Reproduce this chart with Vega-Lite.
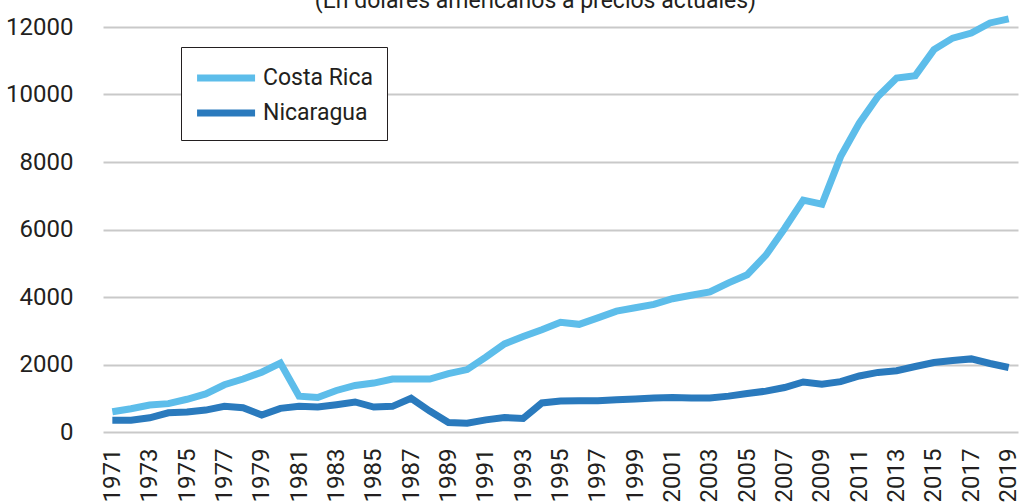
{
  "$schema": "https://vega.github.io/schema/vega-lite/v6.json",
  "autosize": "none",
  "width": 915,
  "height": 405,
  "padding": {"left": 103, "top": 27, "right": 4, "bottom": 72},
  "background": "white",
  "title": {
    "text": "(En dólares americanos a precios actuales)",
    "font": "Roboto, sans-serif",
    "fontSize": 23,
    "fontWeight": "normal",
    "color": "#231f20",
    "anchor": "middle",
    "baseline": "alphabetic",
    "offset": 0,
    "dy": 26,
    "dx": -25
  },
  "config": {
    "view": {"stroke": null},
    "font": "Roboto, sans-serif"
  },
  "data": {
    "values": [
      {"year": 1971, "country": "Costa Rica", "value": 600},
      {"year": 1972, "country": "Costa Rica", "value": 690},
      {"year": 1973, "country": "Costa Rica", "value": 800},
      {"year": 1974, "country": "Costa Rica", "value": 840},
      {"year": 1975, "country": "Costa Rica", "value": 970},
      {"year": 1976, "country": "Costa Rica", "value": 1130},
      {"year": 1977, "country": "Costa Rica", "value": 1400},
      {"year": 1978, "country": "Costa Rica", "value": 1570},
      {"year": 1979, "country": "Costa Rica", "value": 1770},
      {"year": 1980, "country": "Costa Rica", "value": 2040},
      {"year": 1981, "country": "Costa Rica", "value": 1060},
      {"year": 1982, "country": "Costa Rica", "value": 1020},
      {"year": 1983, "country": "Costa Rica", "value": 1230},
      {"year": 1984, "country": "Costa Rica", "value": 1380},
      {"year": 1985, "country": "Costa Rica", "value": 1450},
      {"year": 1986, "country": "Costa Rica", "value": 1570},
      {"year": 1987, "country": "Costa Rica", "value": 1570},
      {"year": 1988, "country": "Costa Rica", "value": 1570},
      {"year": 1989, "country": "Costa Rica", "value": 1730},
      {"year": 1990, "country": "Costa Rica", "value": 1850},
      {"year": 1991, "country": "Costa Rica", "value": 2220},
      {"year": 1992, "country": "Costa Rica", "value": 2610},
      {"year": 1993, "country": "Costa Rica", "value": 2830},
      {"year": 1994, "country": "Costa Rica", "value": 3030},
      {"year": 1995, "country": "Costa Rica", "value": 3250},
      {"year": 1996, "country": "Costa Rica", "value": 3190},
      {"year": 1997, "country": "Costa Rica", "value": 3380},
      {"year": 1998, "country": "Costa Rica", "value": 3580},
      {"year": 1999, "country": "Costa Rica", "value": 3680},
      {"year": 2000, "country": "Costa Rica", "value": 3780},
      {"year": 2001, "country": "Costa Rica", "value": 3950},
      {"year": 2002, "country": "Costa Rica", "value": 4050},
      {"year": 2003, "country": "Costa Rica", "value": 4150},
      {"year": 2004, "country": "Costa Rica", "value": 4420},
      {"year": 2005, "country": "Costa Rica", "value": 4660},
      {"year": 2006, "country": "Costa Rica", "value": 5240},
      {"year": 2007, "country": "Costa Rica", "value": 6030},
      {"year": 2008, "country": "Costa Rica", "value": 6870},
      {"year": 2009, "country": "Costa Rica", "value": 6750},
      {"year": 2010, "country": "Costa Rica", "value": 8160},
      {"year": 2011, "country": "Costa Rica", "value": 9150},
      {"year": 2012, "country": "Costa Rica", "value": 9940},
      {"year": 2013, "country": "Costa Rica", "value": 10490},
      {"year": 2014, "country": "Costa Rica", "value": 10560},
      {"year": 2015, "country": "Costa Rica", "value": 11330},
      {"year": 2016, "country": "Costa Rica", "value": 11670},
      {"year": 2017, "country": "Costa Rica", "value": 11820},
      {"year": 2018, "country": "Costa Rica", "value": 12120},
      {"year": 2019, "country": "Costa Rica", "value": 12240},
      {"year": 1971, "country": "Nicaragua", "value": 350},
      {"year": 1972, "country": "Nicaragua", "value": 350},
      {"year": 1973, "country": "Nicaragua", "value": 420},
      {"year": 1974, "country": "Nicaragua", "value": 570},
      {"year": 1975, "country": "Nicaragua", "value": 590},
      {"year": 1976, "country": "Nicaragua", "value": 650},
      {"year": 1977, "country": "Nicaragua", "value": 760},
      {"year": 1978, "country": "Nicaragua", "value": 720},
      {"year": 1979, "country": "Nicaragua", "value": 500},
      {"year": 1980, "country": "Nicaragua", "value": 700},
      {"year": 1981, "country": "Nicaragua", "value": 760},
      {"year": 1982, "country": "Nicaragua", "value": 740},
      {"year": 1983, "country": "Nicaragua", "value": 810},
      {"year": 1984, "country": "Nicaragua", "value": 890},
      {"year": 1985, "country": "Nicaragua", "value": 740},
      {"year": 1986, "country": "Nicaragua", "value": 760},
      {"year": 1987, "country": "Nicaragua", "value": 1000},
      {"year": 1988, "country": "Nicaragua", "value": 620},
      {"year": 1989, "country": "Nicaragua", "value": 280},
      {"year": 1990, "country": "Nicaragua", "value": 260},
      {"year": 1991, "country": "Nicaragua", "value": 360},
      {"year": 1992, "country": "Nicaragua", "value": 430},
      {"year": 1993, "country": "Nicaragua", "value": 400},
      {"year": 1994, "country": "Nicaragua", "value": 860},
      {"year": 1995, "country": "Nicaragua", "value": 917},
      {"year": 1996, "country": "Nicaragua", "value": 927},
      {"year": 1997, "country": "Nicaragua", "value": 927},
      {"year": 1998, "country": "Nicaragua", "value": 956},
      {"year": 1999, "country": "Nicaragua", "value": 976},
      {"year": 2000, "country": "Nicaragua", "value": 1005},
      {"year": 2001, "country": "Nicaragua", "value": 1024},
      {"year": 2002, "country": "Nicaragua", "value": 1005},
      {"year": 2003, "country": "Nicaragua", "value": 1005},
      {"year": 2004, "country": "Nicaragua", "value": 1063},
      {"year": 2005, "country": "Nicaragua", "value": 1141},
      {"year": 2006, "country": "Nicaragua", "value": 1210},
      {"year": 2007, "country": "Nicaragua", "value": 1317},
      {"year": 2008, "country": "Nicaragua", "value": 1483},
      {"year": 2009, "country": "Nicaragua", "value": 1415},
      {"year": 2010, "country": "Nicaragua", "value": 1493},
      {"year": 2011, "country": "Nicaragua", "value": 1659},
      {"year": 2012, "country": "Nicaragua", "value": 1766},
      {"year": 2013, "country": "Nicaragua", "value": 1815},
      {"year": 2014, "country": "Nicaragua", "value": 1941},
      {"year": 2015, "country": "Nicaragua", "value": 2059},
      {"year": 2016, "country": "Nicaragua", "value": 2117},
      {"year": 2017, "country": "Nicaragua", "value": 2166},
      {"year": 2018, "country": "Nicaragua", "value": 2029},
      {"year": 2019, "country": "Nicaragua", "value": 1912}
    ]
  },
  "mark": {"type": "line", "strokeWidth": 7, "strokeJoin": "miter", "strokeCap": "butt", "clip": false},
  "encoding": {
    "x": {
      "field": "year",
      "type": "ordinal",
      "scale": {"type": "point", "padding": 0.5},
      "axis": {
        "title": null,
        "values": [1971, 1973, 1975, 1977, 1979, 1981, 1983, 1985, 1987, 1989, 1991, 1993, 1995, 1997, 1999, 2001, 2003, 2005, 2007, 2009, 2011, 2013, 2015, 2017, 2019],
        "labelAngle": -90,
        "labelFontSize": 24,
        "labelColor": "#231f20",
        "labelPadding": 16,
        "ticks": false,
        "domain": false,
        "grid": false
      }
    },
    "y": {
      "field": "value",
      "type": "quantitative",
      "scale": {"domain": [0, 12000], "nice": false},
      "axis": {
        "title": null,
        "values": [0, 2000, 4000, 6000, 8000, 10000, 12000],
        "format": "d",
        "labelFontSize": 24,
        "labelColor": "#231f20",
        "labelPadding": 30,
        "ticks": false,
        "domain": false,
        "grid": true,
        "gridColor": "#c9c9c9",
        "gridWidth": 2
      }
    },
    "color": {
      "field": "country",
      "type": "nominal",
      "scale": {"domain": ["Costa Rica", "Nicaragua"], "range": ["#5dbdea", "#2a7abd"]},
      "legend": {
        "title": null,
        "orient": "none",
        "legendX": 78,
        "legendY": 20,
        "direction": "vertical",
        "symbolType": "M-1.03,0H2.97",
        "symbolSize": 841,
        "symbolStrokeWidth": 7,
        "labelFontSize": 23,
        "labelColor": "#231f20",
        "labelOffset": 33,
        "rowPadding": 3,
        "padding": 13,
        "strokeColor": "#231f20",
        "fillColor": "white"
      }
    }
  }
}
